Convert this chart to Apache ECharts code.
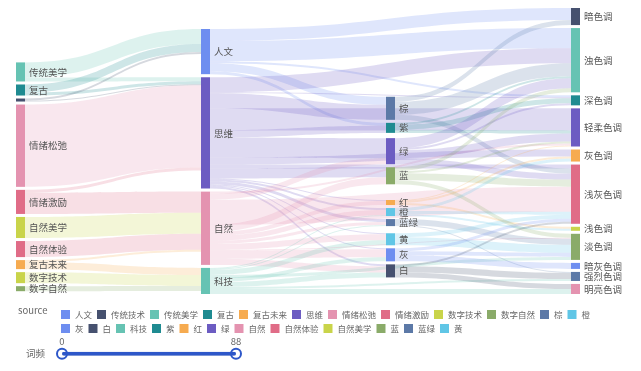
<!DOCTYPE html>
<html>
<head>
<meta charset="utf-8">
<script src="https://cdn.jsdelivr.net/npm/echarts@6/dist/echarts.min.js"></script>
<style>
html,body{margin:0;padding:0;background:#fff;}
#chart{width:641px;height:371px;}
</style>
</head>
<body>
<div id="chart"></div>
<script>
// ---- Data ----
const styleWords = ['传统美学','复古','传统技术','情绪松弛','情绪激励','自然美学','自然体验','复古未来','数字技术','数字自然'];
const themes = ['人文','思维','自然','科技'];
const colorsCat = ['棕','紫','绿','蓝','红','橙','蓝绿','黄','灰','白'];
const tones = ['暗色调','浊色调','深色调','轻柔色调','灰色调','浅灰色调','浅色调','淡色调','暗灰色调','强烈色调','明亮色调'];

// style word -> theme
const linksStyleTheme = [
  ['传统美学','人文',15],['传统美学','思维',4],
  ['复古','人文',8],['复古','思维',3],
  ['传统技术','人文',2],['传统技术','思维',1],
  ['情绪松弛','思维',82],
  ['情绪激励','思维',3],['情绪激励','自然',21],
  ['自然美学','自然',21],['自然体验','自然',16],
  ['复古未来','自然',2],['复古未来','科技',7],
  ['数字技术','科技',11],['数字自然','科技',5]
];
// theme -> colour
const linksThemeColor = [
  ['人文','棕',8],['人文','紫',3],
  ['思维','棕',15],['思维','紫',7],['思维','绿',20],['思维','蓝',10],['思维','红',1],['思维','橙',2],['思维','蓝绿',3],['思维','黄',1],['思维','灰',1],['思维','白',2],
  ['自然','绿',6],['自然','蓝',7],['自然','红',4],['自然','橙',5],['自然','蓝绿',3],['自然','黄',6],['自然','灰',8],['自然','白',6],
  ['科技','橙',1],['科技','蓝绿',1],['科技','黄',5],['科技','灰',4],['科技','白',5]
];
// theme -> tone
const linksThemeTone = [
  ['人文','暗色调',12],['人文','浊色调',20],['人文','深色调',2],
  ['思维','浊色调',15],['思维','深色调',1],['思维','轻柔色调',22],['思维','灰色调',7],['思维','浅灰色调',4],
  ['自然','轻柔色调',2],['自然','浅灰色调',25],['自然','淡色调',1],
  ['科技','淡色调',3],['科技','强烈色调',2],['科技','明亮色调',5]
];
// colour -> tone
const linksColorTone = [
  ['棕','暗色调',5],['棕','浊色调',13],['棕','浅灰色调',5],
  ['紫','浊色调',2],['紫','深色调',5],['紫','轻柔色调',3],
  ['绿','浊色调',10],['绿','深色调',2],['绿','轻柔色调',8],['绿','浅灰色调',6],
  ['蓝','浊色调',4],['蓝','轻柔色调',2],['蓝','浅灰色调',7],['蓝','淡色调',4],
  ['红','轻柔色调',1],['红','灰色调',2],['红','浅色调',2],
  ['橙','灰色调',3],['橙','浅灰色调',3],['橙','浅色调',2],
  ['蓝绿','淡色调',6],['蓝绿','强烈色调',1],
  ['黄','浅灰色调',4],['黄','淡色调',8],
  ['灰','浅灰色调',3],['灰','淡色调',4],['灰','暗灰色调',6],
  ['白','浅灰色调',2],['白','强烈色调',6],['白','明亮色调',5]
];
const freqRange = [0, 88];

// ---- Styles ----
const C = {
  blue:'#6E8EF0', navy:'#46516F', lteal:'#66C3B3', dteal:'#1F8B91', orange:'#F6AB50', purple:'#6C5CC2',
  pink:'#E493B0', rose:'#E06C87', ygreen:'#C9D44A', green:'#8AAB69', slate:'#5C79A7', lblue:'#60C6E6'
};
const nodeColor = {
  '人文':C.blue,'传统技术':C.navy,'传统美学':C.lteal,'复古':C.dteal,'复古未来':C.orange,'思维':C.purple,
  '情绪松弛':C.pink,'情绪激励':C.rose,'数字技术':C.ygreen,'数字自然':C.green,'棕':C.slate,'橙':C.lblue,
  '灰':C.blue,'白':C.navy,'科技':C.lteal,'紫':C.dteal,'红':C.orange,'绿':C.purple,'自然':C.pink,
  '自然体验':C.rose,'自然美学':C.ygreen,'蓝':C.green,'蓝绿':C.slate,'黄':C.lblue,
  '暗色调':C.navy,'浊色调':C.lteal,'深色调':C.dteal,'轻柔色调':C.purple,'灰色调':C.orange,'浅灰色调':C.rose,
  '浅色调':C.ygreen,'淡色调':C.green,'暗灰色调':C.blue,'强烈色调':C.slate,'明亮色调':C.pink
};
const FONT = 'Noto Sans CJK SC, sans-serif';

const allNames = [].concat(styleWords, themes, colorsCat, tones);
const nodes = allNames.map(n => {
  const o = { name: n, itemStyle: { color: nodeColor[n] } };
  if (n === '传统技术') o.label = { show: false };
  return o;
});
const allLinks = [].concat(linksStyleTheme, linksThemeColor, linksThemeTone, linksColorTone)
  .map(l => ({ source: l[0], target: l[1], value: l[2] }));

const legendNames = Array.from(new Set(allLinks.map(l => l.source))).sort();

const chart = echarts.init(document.getElementById('chart'), null, { renderer: 'canvas' });
chart.setOption({
  animation: false,
  color: Object.values(C),
  graphic: [{
    type: 'text', left: 18, top: 306,
    style: { text: 'source', fontSize: 9.5, fill: '#666', fontFamily: FONT }
  }],
  legend: {
    data: legendNames,
    left: 56, top: 305, width: 545,
    itemWidth: 9, itemHeight: 9, itemGap: 5, icon: 'rect',
    textStyle: { fontSize: 8.5, color: '#666', lineHeight: 9, fontFamily: FONT },
    selectedMode: false
  },
  visualMap: {
    type: 'continuous',
    seriesIndex: [],
    min: freqRange[0], max: freqRange[1],
    orient: 'horizontal',
    left: 11, top: 322,
    itemWidth: 4, itemHeight: 174,
    calculable: true,
    text: ['', '词频'],
    textGap: 17,
    inRange: { color: ['#2D57C9', '#2D57C9'] },
    handleIcon: 'path://M0,-6A6,6,0,1,1,0,6A6,6,0,1,1,0,-6ZM0,-4A4,4,0,1,0,0,4A4,4,0,1,0,0,-4Z',
    handleSize: 12,
    handleStyle: { borderColor: '#2D57C9', borderWidth: 0 },
    textStyle: { fontSize: 9.5, color: '#666', fontFamily: FONT }
  },
  series: [{
    type: 'sankey',
    left: 16, top: 8, right: 61, bottom: 77,
    nodeWidth: 9, nodeGap: 3,
    layoutIterations: 32,
    draggable: false,
    emphasis: { disabled: true },
    data: nodes,
    links: allLinks,
    label: { position: 'right', distance: 4, fontSize: 9.5, color: '#555', fontFamily: FONT },
    lineStyle: { color: 'source', opacity: 0.22, curveness: 0.5 }
  }, {
    type: 'pie',
    radius: [0, 0],
    center: [-50, -50],
    silent: true,
    label: { show: false },
    labelLine: { show: false },
    data: legendNames.map(n => ({ name: n, value: 1, itemStyle: { color: nodeColor[n] } }))
  }]
});
</script>
</body>
</html>
